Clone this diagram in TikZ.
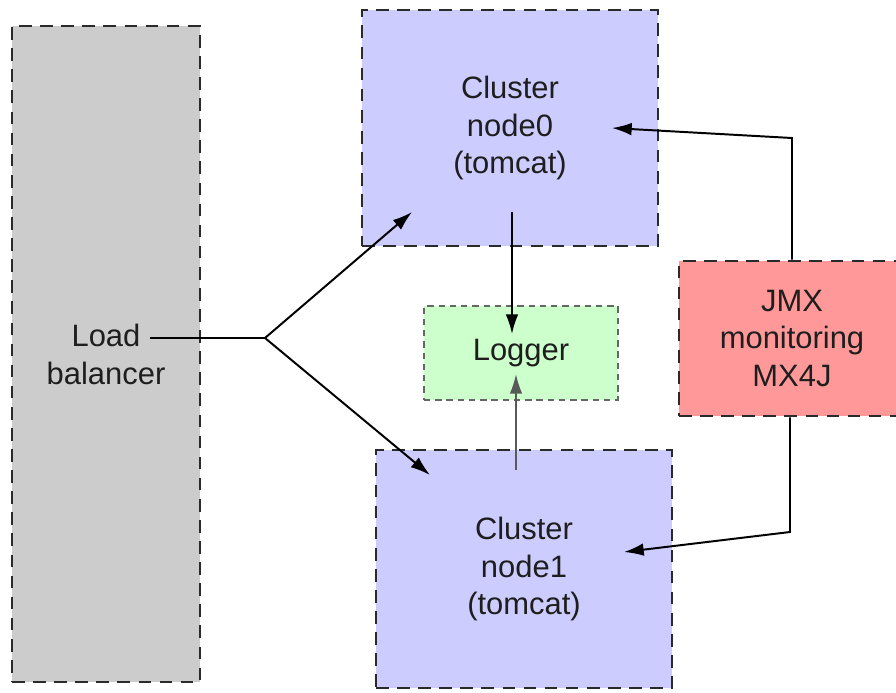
\documentclass[tikz,border=0pt]{standalone}
\usepackage{fontspec}
\setmainfont{Liberation Sans}
\usetikzlibrary{arrows.meta}

\definecolor{lbgray}{HTML}{CCCCCC}
\definecolor{nodeblue}{HTML}{CCCCFF}
\definecolor{loggreen}{HTML}{CCFFCC}
\definecolor{jmxred}{HTML}{FF9999}
\definecolor{edgegray}{HTML}{2A2A2A}
\definecolor{textgray}{HTML}{1E1E1E}

\begin{document}
\begin{tikzpicture}[
    x=0.025cm, y=-0.025cm,
    box/.style={
        draw=edgegray,
        line width=1.8pt,
        dash pattern=on 9pt off 6pt,
        text=textgray,
        font=\fontsize{22}{27}\selectfont,
        align=center,
        inner sep=0pt
    },
    cluster/.style={
        box,
        fill=nodeblue,
        minimum width=7.4cm,
        minimum height=5.9cm
    },
    logbox/.style={
        box,
        draw=black!60,
        dash pattern=on 4.5pt off 3.5pt,
        fill=loggreen,
        minimum width=4.85cm,
        minimum height=2.35cm
    },
    link/.style={
        -{Latex[length=14pt,width=9pt]},
        line width=1.4pt
    }
]

\useasboundingbox (0,0) rectangle (896,692);

% ==================================================
% Boxes
% ==================================================

\node[box, fill=lbgray, minimum width=4.7cm, minimum height=16.4cm]
    (balancer) at (106,354) {Load\\balancer};

\node[cluster] (node0) at (510,128)
    {Cluster\\node0\\(tomcat)};

\node[cluster, minimum height=5.95cm] (node1) at (524,569)
    {Cluster\\node1\\(tomcat)};

\node[logbox] (logger) at (521,353) {Logger};

\node[box, fill=jmxred, minimum width=5.65cm, minimum height=3.875cm]
    (jmx) at (792,338.5) {JMX\\monitoring\\MX4J};

% ==================================================
% Load balancer fan-out
% ==================================================

\coordinate (lbstart) at (150,338);
\coordinate (split) at (265,338);
\coordinate (node0in) at (412,212);
\coordinate (node1in) at (430,475);

\draw[line width=1.4pt] (lbstart) -- (split);
\draw[link] (split) -- (node0in);
\draw[link] (split) -- (node1in);

% ==================================================
% Cluster nodes to logger
% ==================================================

\coordinate (node0out) at (512,212);
\coordinate (logtop) at (512,334);
\coordinate (node1out) at (516,470);
\coordinate (logbottom) at (516,374);

\draw[link] (node0out) -- (logtop);
\draw[link, black!65] (node1out) -- (logbottom);

% ==================================================
% JMX monitoring
% ==================================================

\coordinate (jmxup) at (792,138);
\coordinate (node0jmx) at (612,128);
\coordinate (jmxdown) at (790,532);
\coordinate (node1jmx) at (624,552);

\draw[link] (jmx.north) -- (jmxup) -- (node0jmx);
\draw[link] (jmx.south -| jmxdown) -- (jmxdown) -- (node1jmx);

\end{tikzpicture}
\end{document}
